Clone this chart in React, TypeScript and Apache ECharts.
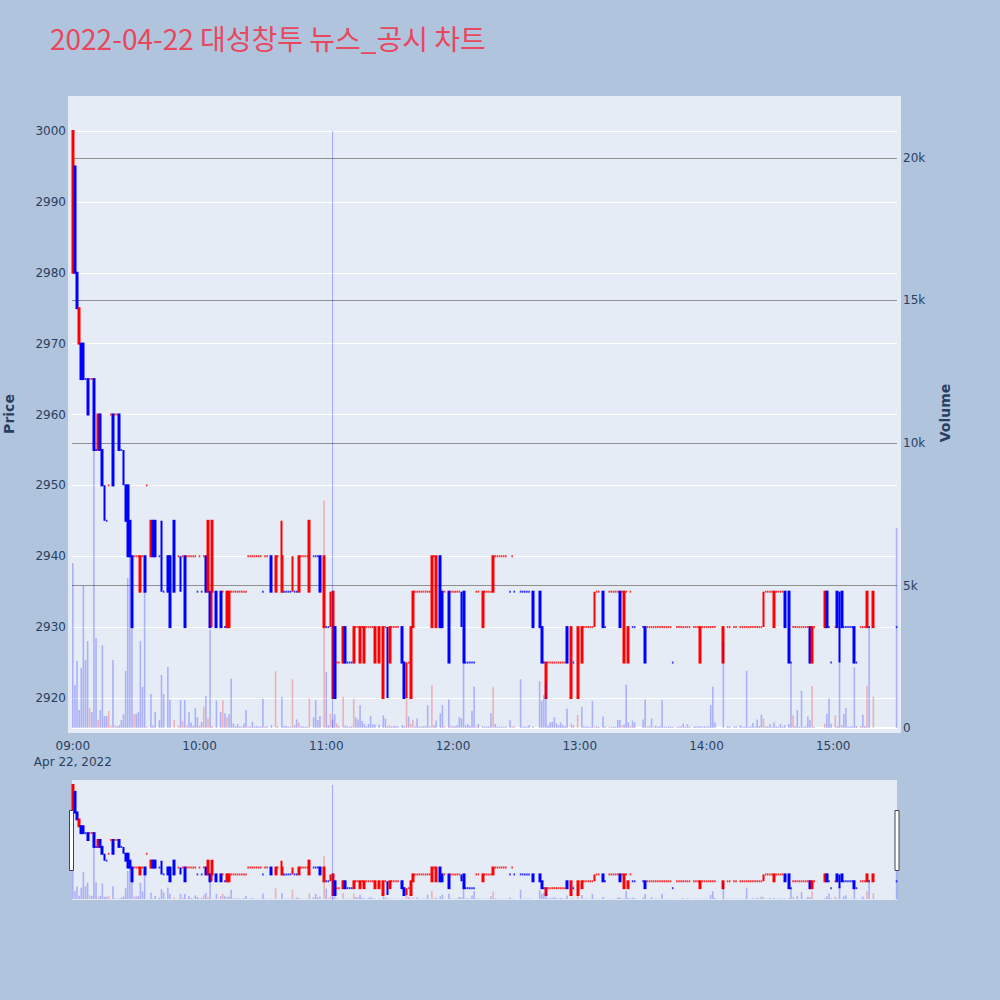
import React, { useEffect, useRef } from 'react';
import * as echarts from 'echarts';

const chartTitle = '2022-04-22 대성창투 뉴스_공시 차트';
const sessionDateLabel = 'Apr 22, 2022';
const sessionOpenHour = 9;
const timeTickMinutes = [0, 60, 120, 180, 240, 300, 360];
const priceTicks = [2920, 2930, 2940, 2950, 2960, 2970, 2980, 2990, 3000];
const volumeTicks = [0, 5000, 10000, 15000, 20000];
const newsTimes = ['11:03'];

// [minute after 09:00, open, high, low, close] or [minute, price] for a single-price minute
const candles09 = [
  [0, 2980, 3000, 2980, 3000], [1, 2995, 2995, 2980, 2980], [2, 2980, 2980, 2975, 2975], [3, 2970, 2975, 2970, 2975],
  [4, 2970, 2970, 2965, 2965], [5, 2970, 2970, 2965, 2965], [6, 2965], [7, 2965, 2965, 2960, 2960], [8, 2965], [9, 2965],
  [10, 2965, 2965, 2955, 2955], [11, 2955], [12, 2955, 2960, 2955, 2960], [13, 2960, 2960, 2955, 2955],
  [14, 2955, 2955, 2950, 2950], [15, 2950, 2950, 2945, 2945], [16, 2945], [17, 2950], [18, 2960],
  [19, 2960, 2960, 2950, 2950], [20, 2960], [21, 2960], [22, 2960, 2960, 2955, 2955], [23, 2955],
  [24, 2955, 2955, 2950, 2950], [25, 2950, 2950, 2945, 2945], [26, 2950, 2950, 2940, 2940], [27, 2945, 2945, 2940, 2940],
  [28, 2940, 2940, 2930, 2930], [29, 2940], [30, 2940], [31, 2940], [32, 2935, 2940, 2935, 2940], [33, 2940],
  [34, 2940, 2940, 2935, 2935], [35, 2950], [37, 2940, 2945, 2940, 2945], [38, 2945, 2945, 2940, 2940],
  [39, 2945, 2945, 2940, 2940], [41, 2940], [42, 2945, 2945, 2935, 2935], [43, 2935], [45, 2940, 2940, 2935, 2935],
  [46, 2940, 2940, 2930, 2930], [48, 2945, 2945, 2935, 2935], [50, 2940], [51, 2940, 2940, 2935, 2935], [52, 2940],
  [53, 2940, 2940, 2930, 2930], [54, 2940], [55, 2940], [56, 2940], [57, 2940], [58, 2940], [59, 2935],
];
const candles10 = [
  [60, 2940], [61, 2935], [62, 2940], [63, 2940, 2940, 2935, 2935], [64, 2935, 2945, 2935, 2945],
  [65, 2935, 2935, 2930, 2930], [66, 2935, 2945, 2930, 2945], [68, 2935, 2935, 2930, 2930], [70, 2935, 2935, 2930, 2930],
  [71, 2935], [72, 2930], [73, 2930, 2935, 2930, 2935], [74, 2930, 2935, 2930, 2935], [75, 2935], [76, 2935], [77, 2935],
  [78, 2935], [79, 2935], [80, 2935], [81, 2935], [82, 2935], [83, 2940], [84, 2940], [85, 2940], [86, 2940], [87, 2940],
  [88, 2940], [89, 2940], [90, 2935], [91, 2940], [92, 2940], [94, 2940, 2940, 2935, 2935], [96, 2935, 2940, 2935, 2940],
  [97, 2940], [99, 2935, 2945, 2935, 2940], [100, 2935], [101, 2935], [102, 2935], [103, 2935],
  [104, 2935, 2940, 2935, 2940], [105, 2935], [106, 2935], [107, 2935, 2940, 2935, 2940], [108, 2940], [109, 2940],
  [110, 2940], [111, 2940], [112, 2935, 2945, 2935, 2945], [114, 2940], [115, 2940], [116, 2940],
  [117, 2940, 2940, 2935, 2935], [119, 2930, 2940, 2930, 2940],
];
const candles11 = [
  [120, 2930], [121, 2930], [122, 2930, 2935, 2930, 2935], [123, 2920, 2935, 2920, 2935], [124, 2930, 2930, 2920, 2920],
  [125, 2925], [126, 2925], [128, 2925, 2930, 2925, 2930], [129, 2930, 2930, 2925, 2925], [130, 2925], [131, 2925],
  [132, 2925], [133, 2925, 2930, 2925, 2930], [134, 2930], [135, 2930], [136, 2925, 2930, 2925, 2930], [137, 2930],
  [138, 2925, 2930, 2925, 2930], [139, 2930], [140, 2930], [141, 2930], [142, 2930], [143, 2925, 2930, 2925, 2930],
  [145, 2925, 2930, 2925, 2930], [147, 2920, 2930, 2920, 2930], [148, 2930], [149, 2930, 2930, 2920, 2920],
  [150, 2925, 2930, 2925, 2930], [151, 2930], [152, 2930], [153, 2930], [154, 2930], [156, 2930, 2930, 2925, 2925],
  [157, 2925, 2925, 2920, 2920], [158, 2920, 2925, 2920, 2925], [159, 2925], [160, 2920, 2930, 2920, 2930],
  [161, 2930, 2935, 2930, 2935], [162, 2935], [163, 2935], [164, 2935], [165, 2935], [166, 2935], [167, 2935],
  [168, 2935], [169, 2935], [170, 2930, 2940, 2930, 2940], [171, 2940], [172, 2930, 2940, 2930, 2940],
  [174, 2940, 2940, 2930, 2930], [175, 2935, 2935, 2930, 2930], [176, 2935], [178, 2935, 2935, 2925, 2925], [179, 2935],
];
const candles12 = [
  [180, 2935], [181, 2935], [182, 2935], [183, 2935], [184, 2935, 2935, 2930, 2930], [185, 2935, 2935, 2925, 2925],
  [186, 2925], [187, 2925], [188, 2925], [189, 2925], [190, 2925], [191, 2935], [192, 2935], [194, 2930, 2935, 2930, 2935],
  [195, 2935], [196, 2935], [197, 2935], [198, 2935], [199, 2935, 2940, 2935, 2940], [200, 2940], [201, 2940],
  [202, 2940], [203, 2940], [204, 2940], [205, 2940], [207, 2935], [208, 2940], [209, 2935], [212, 2935], [213, 2935],
  [214, 2935], [215, 2935], [216, 2935], [218, 2935, 2935, 2930, 2930], [221, 2935, 2935, 2930, 2930],
  [222, 2930, 2930, 2925, 2925], [223, 2925], [224, 2920, 2925, 2920, 2925], [225, 2925], [226, 2925], [227, 2925],
  [228, 2925], [229, 2925], [230, 2925], [231, 2925], [232, 2925], [233, 2925], [234, 2930, 2930, 2925, 2925],
  [236, 2920, 2930, 2920, 2930], [237, 2925], [239, 2920, 2930, 2920, 2930],
];
const candles13 = [
  [241, 2925, 2930, 2925, 2930], [242, 2930], [243, 2930], [244, 2930], [245, 2930], [246, 2930],
  [247, 2930, 2935, 2930, 2935], [248, 2935], [249, 2935], [251, 2935, 2935, 2930, 2930], [252, 2930], [254, 2935],
  [255, 2935], [256, 2935], [257, 2935], [258, 2935], [259, 2935, 2935, 2930, 2930], [260, 2935],
  [261, 2925, 2935, 2925, 2935], [262, 2935], [263, 2925, 2930, 2925, 2930], [264, 2935], [265, 2930], [266, 2930],
  [270, 2930], [271, 2930, 2930, 2925, 2925], [272, 2930], [273, 2930], [274, 2930], [275, 2930], [276, 2930],
  [277, 2930], [278, 2930], [279, 2930], [280, 2930], [281, 2930], [282, 2930], [283, 2930], [284, 2925], [286, 2930],
  [287, 2930], [288, 2930], [289, 2930], [290, 2930], [291, 2930], [292, 2930], [294, 2930], [295, 2930], [296, 2930],
  [297, 2925, 2930, 2925, 2930], [298, 2930], [299, 2930],
];
const candles14 = [
  [300, 2930], [301, 2930], [302, 2930], [303, 2930], [304, 2930], [308, 2925, 2930, 2925, 2930], [310, 2930],
  [311, 2930], [313, 2930], [314, 2930], [316, 2930], [317, 2930], [318, 2930], [319, 2930], [320, 2930], [321, 2930],
  [322, 2930], [323, 2930], [324, 2930], [325, 2930], [326, 2930], [327, 2930, 2935, 2930, 2935], [328, 2935],
  [329, 2935], [330, 2935], [331, 2935], [332, 2930, 2935, 2930, 2935], [333, 2935], [334, 2935], [335, 2935],
  [336, 2935], [337, 2935, 2935, 2930, 2930], [339, 2935, 2935, 2925, 2925], [340, 2925], [341, 2930], [342, 2930],
  [343, 2930], [344, 2930], [345, 2930], [346, 2930], [347, 2930], [348, 2930], [349, 2930, 2930, 2925, 2925],
  [350, 2925, 2930, 2925, 2930], [351, 2930], [356, 2930, 2935, 2930, 2935], [357, 2935, 2935, 2930, 2930],
  [358, 2930], [359, 2925],
];
const candles15 = [
  [361, 2930], [362, 2935, 2935, 2930, 2930], [363, 2935, 2935, 2925, 2925], [364, 2935, 2935, 2930, 2930],
  [365, 2930], [366, 2930], [367, 2930], [368, 2930], [369, 2930], [370, 2930, 2930, 2925, 2925], [371, 2925],
  [373, 2930], [374, 2930], [375, 2930], [376, 2930, 2935, 2930, 2935], [377, 2930], [379, 2930, 2935, 2930, 2935],
  [390, 2930],
];

// [minute after 09:00, volume]
const volumes09 = [
  [0, 5790], [1, 1500], [2, 2350], [3, 630], [4, 2100], [5, 5000], [6, 2390], [7, 3050], [8, 700], [9, 560],
  [10, 9800], [11, 3150], [12, 280], [13, 630], [14, 2900], [15, 420], [16, 420], [17, 600], [18, 80], [19, 2390],
  [20, 100], [21, 60], [22, 100], [23, 280], [24, 480], [25, 2000], [26, 5260], [27, 7150], [28, 3930], [29, 490],
  [30, 490], [31, 560], [32, 3050], [33, 1440], [34, 4840], [35, 40], [37, 1190], [38, 90], [39, 560], [41, 280],
  [42, 1860], [43, 1190], [45, 2140], [46, 980], [48, 280], [50, 80], [51, 980], [52, 245], [53, 980], [54, 90],
  [55, 560], [56, 190], [57, 80], [58, 700], [59, 375],
];
const volumes10 = [
  [60, 80], [61, 220], [62, 750], [63, 1120], [64, 340], [65, 3440], [66, 70], [68, 960], [70, 560], [71, 980],
  [72, 515], [73, 375], [74, 480], [75, 1730], [76, 160], [77, 60], [78, 140], [79, 60], [80, 50], [81, 160],
  [82, 630], [83, 60], [84, 50], [85, 220], [86, 50], [87, 70], [88, 40], [89, 50], [90, 1030], [91, 60], [92, 50],
  [94, 100], [96, 1990], [97, 50], [99, 1100], [100, 60], [101, 70], [102, 40], [103, 50], [104, 1710], [105, 100],
  [106, 300], [107, 190], [108, 60], [109, 50], [110, 40], [111, 50], [112, 1050], [114, 375], [115, 980], [116, 280],
  [117, 420], [119, 7980],
];
const volumes11 = [
  [120, 1965], [121, 100], [122, 500], [123, 300], [124, 480], [125, 160], [126, 60], [128, 1100], [129, 90],
  [130, 50], [131, 40], [132, 60], [133, 1030], [134, 375], [135, 300], [136, 800], [137, 250], [138, 140], [139, 60],
  [140, 140], [141, 420], [142, 120], [143, 120], [145, 120], [147, 445], [148, 330], [149, 70], [150, 100], [151, 50],
  [152, 70], [153, 70], [154, 50], [156, 100], [157, 60], [158, 1215], [159, 400], [160, 140], [161, 280], [162, 50],
  [163, 330], [164, 50], [165, 50], [166, 60], [167, 70], [168, 800], [169, 50], [170, 1500], [171, 100], [172, 260],
  [174, 515], [175, 800], [176, 60], [178, 1000], [179, 90],
];
const volumes12 = [
  [180, 50], [181, 60], [182, 100], [183, 375], [184, 330], [185, 2290], [186, 90], [187, 140], [188, 70], [189, 610],
  [190, 1450], [191, 60], [192, 140], [194, 60], [195, 50], [196, 40], [197, 50], [198, 515], [199, 1430], [200, 140],
  [201, 50], [202, 40], [203, 50], [204, 40], [205, 50], [207, 280], [208, 60], [209, 50], [212, 1710], [213, 40],
  [214, 50], [215, 40], [216, 100], [218, 50], [221, 1640], [222, 960], [223, 1170], [224, 1600], [225, 90],
  [226, 190], [227, 220], [228, 375], [229, 160], [230, 100], [231, 190], [232, 100], [233, 60], [234, 680],
  [236, 160], [237, 90], [239, 460],
];
const volumes13 = [
  [241, 750], [242, 60], [243, 50], [244, 40], [245, 40], [246, 960], [247, 50], [248, 60], [249, 40], [251, 400],
  [252, 60], [254, 50], [255, 40], [256, 50], [257, 40], [258, 280], [259, 280], [260, 90], [261, 120], [262, 1520],
  [263, 200], [264, 60], [265, 260], [266, 190], [270, 300], [271, 1000], [272, 50], [273, 60], [274, 330], [275, 40],
  [276, 90], [277, 40], [278, 60], [279, 980], [280, 50], [281, 40], [282, 60], [283, 50], [284, 40], [286, 50],
  [287, 40], [288, 60], [289, 160], [290, 40], [291, 130], [292, 50], [294, 40], [295, 60], [296, 50], [297, 70],
  [298, 40], [299, 60],
];
const volumes14 = [
  [300, 50], [301, 60], [302, 800], [303, 1450], [304, 200], [308, 3030], [310, 70], [311, 50], [313, 40], [314, 60],
  [316, 90], [317, 50], [318, 40], [319, 2010], [320, 40], [321, 50], [322, 180], [323, 40], [324, 300], [325, 70],
  [326, 470], [327, 330], [328, 60], [329, 50], [330, 130], [331, 40], [332, 200], [333, 50], [334, 40], [335, 140],
  [336, 50], [337, 100], [339, 140], [340, 2290], [341, 450], [342, 60], [343, 630], [344, 40], [345, 1310],
  [346, 40], [347, 60], [348, 400], [349, 280], [350, 1470], [351, 40], [356, 160], [357, 490], [358, 1040], [359, 160],
];
const volumes15 = [
  [361, 450], [362, 60], [363, 2330], [364, 100], [365, 490], [366, 700], [367, 40], [368, 50], [369, 60],
  [370, 2130], [371, 70], [373, 70], [374, 470], [375, 60], [376, 1470], [377, 3580], [379, 1100], [390, 7020],
];

const UP_COLOR = '#ff0000';
const DOWN_COLOR = '#0000ff';
const VOL_UP = 'rgba(255,0,0,0.25)';
const VOL_DOWN = 'rgba(0,0,255,0.25)';
const NEWS_COLOR = 'rgba(0,0,255,0.3)';
const TEXT_COLOR = '#2a3f5f';
const TICK_FONT = "'DejaVu Sans', Verdana, sans-serif";

const X_MIN = -0.38;
const X_MAX = 390.2;
const PRICE_MIN = 2915.06;
const PRICE_MAX = 3004.94;
const VOL_MIN = -175;
const VOL_MAX = 22175;
const SLIDER_PRICE_MIN = 2916.4;
const SLIDER_PRICE_MAX = 3003.6;

function toMinutes(hhmm: string) {
  const [h, m] = hhmm.split(':').map(Number);
  return (h - sessionOpenHour) * 60 + m;
}
function fmtTime(min: number) {
  const h = sessionOpenHour + Math.floor(min / 60);
  const m = Math.round(min % 60);
  return `${String(h).padStart(2, '0')}:${String(m).padStart(2, '0')}`;
}

function buildData() {
  const rows = [...candles09, ...candles10, ...candles11, ...candles12, ...candles13, ...candles14, ...candles15]
    .map((r) =>
      r.length === 2
        ? { t: r[0], o: r[1], h: r[1], l: r[1], c: r[1] }
        : { t: r[0], o: r[1], h: r[2], l: r[3], c: r[4] }
    )
    .sort((a, b) => a.t - b.t);
  let prevC: number | null = null;
  let prevDir = 1;
  const prevCloseAt = new Map<number, number | null>();
  const closeAt = new Map<number, number>();
  const candles: any[] = [];
  const dojis: any[] = [];
  rows.forEach((r) => {
    const dir =
      r.c > r.o ? 1 : r.c < r.o ? -1 : prevC === null ? 1 : r.c > prevC ? 1 : r.c < prevC ? -1 : prevDir;
    prevCloseAt.set(r.t, prevC);
    closeAt.set(r.t, r.c);
    prevC = r.c;
    prevDir = dir;
    const col = dir > 0 ? UP_COLOR : DOWN_COLOR;
    if (r.h === r.l) {
      dojis.push({ value: [r.t, r.c], itemStyle: { color: col } });
    } else {
      candles.push({
        value: [r.t, r.o, r.c, r.l, r.h],
        itemStyle: { color: col, color0: col, borderColor: col, borderColor0: col },
      });
    }
  });
  const vols = [...volumes09, ...volumes10, ...volumes11, ...volumes12, ...volumes13, ...volumes14, ...volumes15].map(
    ([t, v]) => {
      const c = closeAt.get(t);
      const pc = prevCloseAt.get(t);
      const up = c != null && pc != null && c > pc;
      return { value: [t, v], itemStyle: { color: up ? VOL_UP : VOL_DOWN } };
    }
  );
  const maxHigh = Math.max(...rows.map((r) => r.h));
  return { candles, dojis, vols, maxHigh };
}

export default function App() {
  const ref = useRef<HTMLDivElement>(null);
  useEffect(() => {
    if (!ref.current) return;
    const chart = echarts.init(ref.current, null, { renderer: 'svg' });
    const { candles, dojis, vols, maxHigh } = buildData();
    const newsMinutes = newsTimes.map(toMinutes);

    const candleSeries = (xi: number, yi: number) => ({
      type: 'candlestick',
      xAxisIndex: xi,
      yAxisIndex: yi,
      data: candles,
      encode: { x: 0, y: [1, 2, 3, 4] },
      barWidth: 1.4,
      itemStyle: { borderWidth: 2 },
      silent: true,
      z: 3,
    });
    const dojiSeries = (xi: number, yi: number) => ({
      type: 'scatter',
      xAxisIndex: xi,
      yAxisIndex: yi,
      data: dojis,
      symbol: 'rect',
      symbolSize: [1.6, 2],
      silent: true,
      z: 3,
    });
    const volSeries = (xi: number, yi: number) => ({
      type: 'bar',
      xAxisIndex: xi,
      yAxisIndex: yi,
      data: vols,
      barWidth: 1.6,
      silent: true,
      z: 4,
    });
    const newsSeries = (xi: number, yi: number, lo: number) =>
      newsMinutes.map((t) => ({
        type: 'line',
        xAxisIndex: xi,
        yAxisIndex: yi,
        data: [
          [t, lo],
          [t, maxHigh],
        ],
        symbol: 'none',
        lineStyle: { color: NEWS_COLOR, width: 1 },
        silent: true,
        z: 5,
      }));

    const handle = (x: number) => ({
      type: 'rect',
      shape: { x, y: 810.5, width: 4, height: 60 },
      style: { fill: '#ffffff', stroke: '#444444', lineWidth: 1 },
      z: 20,
      silent: true,
    });

    chart.setOption({
      animation: false,
      backgroundColor: '#B0C4DE',
      title: {
        text: chartTitle,
        left: 50,
        top: 24,
        padding: 0,
        textStyle: {
          color: '#E8475E',
          fontSize: 28,
          fontWeight: 'normal',
          fontFamily: "'Noto Sans CJK KR', 'Open Sans', sans-serif",
        },
      },
      graphic: [
        {
          type: 'rect',
          shape: { x: 68, y: 96, width: 833, height: 637 },
          style: { fill: '#E5ECF6' },
          z: -1,
          silent: true,
        },
        {
          type: 'text',
          x: 9,
          y: 414,
          rotation: Math.PI / 2,
          style: {
            text: 'Price',
            fill: TEXT_COLOR,
            font: `bold 14px ${TICK_FONT}`,
            textAlign: 'center',
            textVerticalAlign: 'middle',
            align: 'center',
            verticalAlign: 'middle',
          },
          silent: true,
        },
        {
          type: 'text',
          x: 945,
          y: 413,
          rotation: Math.PI / 2,
          style: {
            text: 'Volume',
            fill: TEXT_COLOR,
            font: `bold 14px ${TICK_FONT}`,
            textAlign: 'center',
            textVerticalAlign: 'middle',
            align: 'center',
            verticalAlign: 'middle',
          },
          silent: true,
        },
        handle(69.5),
        handle(895),
      ],
      grid: [
        { left: 72, right: 103, top: 96, height: 637 },
        { left: 72, right: 103, top: 780, height: 120, show: true, backgroundColor: '#E5ECF6', borderWidth: 0 },
      ],
      xAxis: [
        {
          type: 'value',
          gridIndex: 0,
          min: X_MIN,
          max: X_MAX,
          axisLine: { show: true, onZero: true, onZeroAxisIndex: 1, lineStyle: { color: '#ffffff', width: 2 } },
          axisTick: { show: false, customValues: timeTickMinutes },
          splitLine: { show: false },
          axisLabel: {
            customValues: timeTickMinutes,
            formatter: (v: number) => (v === 0 ? `${fmtTime(v)}\n${sessionDateLabel}` : fmtTime(v)),
            color: TEXT_COLOR,
            fontFamily: TICK_FONT,
            fontSize: 12,
            lineHeight: 16,
            margin: 5,
          },
        },
        {
          type: 'value',
          gridIndex: 1,
          min: X_MIN,
          max: X_MAX,
          show: false,
          splitLine: { show: false },
        },
      ],
      yAxis: [
        {
          type: 'value',
          gridIndex: 0,
          position: 'left',
          min: PRICE_MIN,
          max: PRICE_MAX,
          axisLine: { show: false },
          axisTick: { show: false, customValues: priceTicks },
          axisLabel: {
            customValues: priceTicks,
            formatter: (v: number) => String(v),
            color: TEXT_COLOR,
            fontFamily: TICK_FONT,
            fontSize: 12,
            margin: 6,
          },
          splitLine: { show: true, lineStyle: { color: '#ffffff', width: 1 } },
        },
        {
          type: 'value',
          gridIndex: 0,
          position: 'right',
          min: VOL_MIN,
          max: VOL_MAX,
          axisLine: { show: false },
          axisTick: { show: false, customValues: volumeTicks.filter((v) => v > 0) },
          axisLabel: {
            customValues: volumeTicks,
            formatter: (v: number) => (v === 0 ? '0' : `${v / 1000}k`),
            color: TEXT_COLOR,
            fontFamily: TICK_FONT,
            fontSize: 12,
            margin: 6,
          },
          splitLine: { show: true, lineStyle: { color: '#8f8f8f', width: 1 } },
        },
        {
          type: 'value',
          gridIndex: 1,
          min: SLIDER_PRICE_MIN,
          max: SLIDER_PRICE_MAX,
          show: false,
          splitLine: { show: false },
        },
        {
          type: 'value',
          gridIndex: 1,
          min: VOL_MIN,
          max: VOL_MAX,
          show: false,
          splitLine: { show: false },
        },
      ],
      series: [
        candleSeries(0, 0),
        dojiSeries(0, 0),
        volSeries(0, 1),
        ...newsSeries(0, 0, PRICE_MIN + 0.7),
        candleSeries(1, 2),
        dojiSeries(1, 2),
        volSeries(1, 3),
        ...newsSeries(1, 2, SLIDER_PRICE_MIN),
      ],
    });
    return () => chart.dispose();
  }, []);
  return (
    <div
      ref={ref}
      style={{ position: 'absolute', left: 0, top: 0, width: 1000, height: 1000 }}
    />
  );
}
